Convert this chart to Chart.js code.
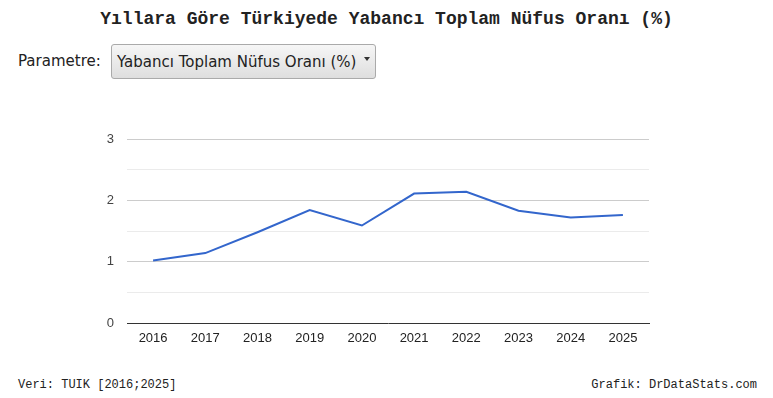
<!DOCTYPE html>
<html><head><meta charset="utf-8">
<script src="https://cdn.jsdelivr.net/npm/chart.js@4"></script>
<style>
html,body{margin:0;padding:0;background:#fff;width:773px;height:398px;overflow:hidden;position:relative;}
#title{position:absolute;left:0;top:9px;width:773px;text-align:center;font-family:"Liberation Mono","Courier New",monospace;font-weight:bold;font-size:18px;color:#222;}
#plabel{position:absolute;left:18px;top:52px;font-family:"DejaVu Sans",Verdana,sans-serif;font-size:15px;color:#222;}
#sel{position:absolute;left:111px;top:44px;width:263px;height:33px;border:1px solid #aaa;border-radius:3px;background:linear-gradient(#f6f6f6,#dedede);box-sizing:content-box;}
#sel span{position:absolute;left:5px;top:8px;font-family:"DejaVu Sans",Verdana,sans-serif;font-size:15px;color:#222;white-space:nowrap;}
#arrow{position:absolute;right:5px;top:12px;width:0;height:0;border-left:3px solid transparent;border-right:3px solid transparent;border-top:4px solid #333;}
#wrap{position:absolute;left:0;top:100px;width:773px;height:260px;}
.foot{position:absolute;top:378px;font-family:"Liberation Mono","Courier New",monospace;font-size:12px;color:#222;}
</style></head>
<body>
<div id="title">Yıllara Göre Türkiyede Yabancı Toplam Nüfus Oranı (%)</div>
<div id="plabel">Parametre:</div>
<div id="sel"><span>Yabancı Toplam Nüfus Oranı (%)</span><div id="arrow"></div></div>
<div id="wrap"><canvas id="c"></canvas></div>
<div class="foot" style="left:18px;">Veri: TUIK [2016;2025]</div>
<div class="foot" style="right:16px;">Grafik: DrDataStats.com</div>
<script>
const years = ["2016","2017","2018","2019","2020","2021","2022","2023","2024","2025"];
const yabanciOrani = [1.02,1.14,1.48,1.84,1.59,2.11,2.14,1.83,1.72,1.76];
const yTicks = [0,1,2,3];

new Chart(document.getElementById('c'), {
  type: 'line',
  data: { labels: years, datasets: [{ data: yabanciOrani, borderColor: '#3366cc', borderWidth: 2, pointRadius: 0, tension: 0, fill: false }] },
  options: {
    responsive: true, maintainAspectRatio: false, animation: false,
    layout: { padding: { top: 39, right: 124, left: 0, bottom: 0 } },
    plugins: { legend: { display: false }, tooltip: { enabled: false } },
    scales: {
      x: {
        offset: true,
        grid: { display: false },
        border: { display: true, color: '#333', width: 1 },
        ticks: { color: '#222', font: { family: 'Liberation Sans, Arial', size: 13 }, padding: 0, maxRotation: 0 },
        afterFit: s => { s.height = 37; }
      },
      y: {
        min: 0, max: 3,
        border: { display: false },
        grid: { color: c => (c.tick.value === 0 ? 'rgba(0,0,0,0)' : (Number.isInteger(c.tick.value) ? '#cccccc' : '#ebebeb')), drawTicks: false },
        ticks: { stepSize: 0.5, padding: 13, color: '#444', font: { family: 'Liberation Sans, Arial', size: 13 },
          callback: v => yTicks.includes(v) ? String(v) : '' },
        afterFit: s => { s.width = 127; }
      }
    }
  }
});
</script>
</body></html>
